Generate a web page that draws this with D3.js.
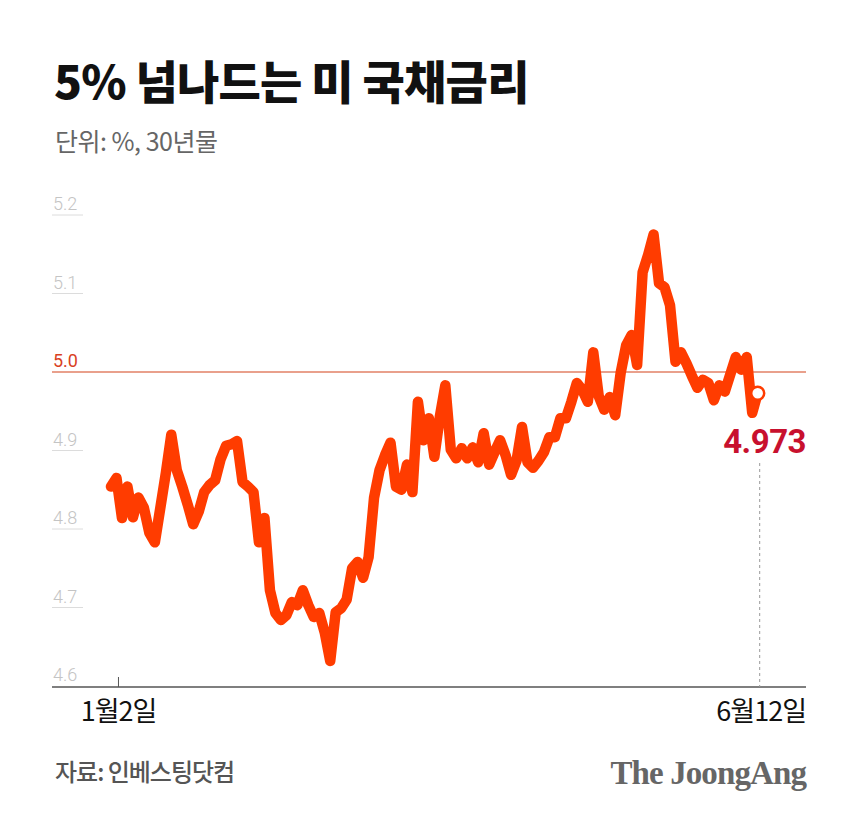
<!DOCTYPE html>
<html>
<head>
<meta charset="utf-8">
<script src="https://d3js.org/d3.v7.min.js"></script>
<style>
  body { margin: 0; background: #fff; }
</style>
</head>
<body>
<div id="chart"></div>
<script>
// 30-year US Treasury yield, daily
const yields = [
  4.854, 4.865, 4.814, 4.854, 4.815, 4.840, 4.827, 4.795, 4.783, 4.827,
  4.871, 4.920, 4.875, 4.854, 4.831, 4.806, 4.822, 4.847, 4.856, 4.862,
  4.889, 4.906, 4.908, 4.912, 4.860, 4.854, 4.847, 4.783, 4.814, 4.722,
  4.693, 4.684, 4.690, 4.707, 4.703, 4.722, 4.703, 4.688, 4.693, 4.668,
  4.632, 4.694, 4.699, 4.710, 4.750, 4.758, 4.738, 4.764, 4.840, 4.875,
  4.894, 4.910, 4.854, 4.850, 4.882, 4.847, 4.962, 4.913, 4.941, 4.892,
  4.943, 4.983, 4.901, 4.890, 4.903, 4.890, 4.904, 4.885, 4.922, 4.882,
  4.898, 4.913, 4.894, 4.869, 4.887, 4.930, 4.885, 4.878, 4.887, 4.898,
  4.917, 4.917, 4.941, 4.941, 4.962, 4.986, 4.977, 4.962, 5.025, 4.969,
  4.952, 4.968, 4.945, 4.999, 5.034, 5.047, 5.009, 5.127, 5.149, 5.175,
  5.113, 5.108, 5.085, 5.013, 5.025, 5.011, 4.995, 4.980, 4.990, 4.986,
  4.964, 4.983, 4.975, 4.997, 5.019, 5.003, 5.019, 4.948, 4.973
];
const yTicks = [4.6, 4.7, 4.8, 4.9, 5.0, 5.1, 5.2];
const xTickLabels = ["1월2일", "6월12일"];
const xTickIndex = [1, yields.length - 1];
const refLevel = 5.0;
const lastLabel = "4.973";

const width = 860, height = 824;
const KR = "'Noto Sans CJK KR', 'Noto Sans', sans-serif";
const NUM = "Roboto, 'Liberation Sans', sans-serif";

const svg = d3.select("#chart").append("svg")
  .attr("width", width)
  .attr("height", height);

svg.append("rect").attr("width", width).attr("height", height).attr("fill", "#fff");

// titles
svg.append("text")
  .attr("x", 54).attr("y", 99)
  .style("font-family", KR)
  .style("font-size", "46px").style("font-weight", 900)
  .style("letter-spacing", "-0.8px")
  .attr("fill", "#111")
  .text("5% 넘나드는 미 국채금리");

svg.append("text")
  .attr("x", 55).attr("y", 151)
  .style("font-family", KR)
  .style("font-size", "25px")
  .style("letter-spacing", "-0.5px")
  .attr("fill", "#666")
  .text("단위: %, 30년물");

// scales
const x = d3.scaleLinear().domain([0, yields.length - 1]).range([111, 757.7]);
const y = d3.scaleLinear().domain([4.6, 5.2]).range([686, 215]);

const left = 52, right = 806;

// y labels with short underlines
const yg = svg.append("g");
yTicks.forEach(t => {
  const isRef = t === refLevel;
  if (t !== 4.6) {
    yg.append("line")
      .attr("x1", left).attr("x2", isRef ? right : 83)
      .attr("y1", y(t)).attr("y2", y(t))
      .attr("stroke", isRef ? "#e9a08c" : "#dcdcdc")
      .attr("stroke-width", isRef ? 2 : 1);
  }
  yg.append("text")
    .attr("x", left + 1).attr("y", y(t) - 5)
    .style("font-family", NUM)
    .style("font-size", "18px")
    .style("font-weight", isRef ? 400 : 300)
    .attr("fill", isRef ? "#d9411e" : "#c4c4c4")
    .text(d3.format(".1f")(t));
});

// x axis
svg.append("line")
  .attr("x1", left).attr("x2", right)
  .attr("y1", y(4.6) + 1).attr("y2", y(4.6) + 1)
  .attr("stroke", "#555").attr("stroke-width", 1.3);

svg.append("line")
  .attr("x1", x(xTickIndex[0]) + 2).attr("x2", x(xTickIndex[0]) + 2)
  .attr("y1", y(4.6) - 9).attr("y2", y(4.6) + 1)
  .attr("stroke", "#555");

// dashed guide to the last point
svg.append("line")
  .attr("x1", x(xTickIndex[1]) + 2).attr("x2", x(xTickIndex[1]) + 2)
  .attr("y1", 463).attr("y2", y(4.6) + 1)
  .attr("stroke", "#999").attr("stroke-dasharray", "3,3");

svg.append("text")
  .attr("x", x(xTickIndex[0]) + 2).attr("y", 721)
  .attr("text-anchor", "middle")
  .style("font-family", KR)
  .style("font-size", "27px").style("letter-spacing", "-1px")
  .attr("fill", "#111")
  .text(xTickLabels[0]);

svg.append("text")
  .attr("x", right).attr("y", 721)
  .attr("text-anchor", "end")
  .style("font-family", KR)
  .style("font-size", "27px").style("letter-spacing", "-1px")
  .attr("fill", "#111")
  .text(xTickLabels[1]);

// the line
const line = d3.line()
  .x((d, i) => x(i))
  .y(d => y(d));

svg.append("path")
  .datum(yields)
  .attr("d", line)
  .attr("fill", "none")
  .attr("stroke", "#ff3c00")
  .attr("stroke-width", 10.5)
  .attr("stroke-linejoin", "round")
  .attr("stroke-linecap", "round");

// last point marker
const lastI = yields.length - 1;
svg.append("circle")
  .attr("cx", x(lastI)).attr("cy", y(yields[lastI]))
  .attr("r", 6.5)
  .attr("fill", "#fff")
  .attr("stroke", "#ff3c00")
  .attr("stroke-width", 2.5);

svg.append("text")
  .attr("x", right).attr("y", 453)
  .attr("text-anchor", "end")
  .style("font-family", NUM)
  .style("font-size", "33px").style("font-weight", 700)
  .style("letter-spacing", "-0.5px")
  .attr("fill", "#c8102e")
  .text(lastLabel);

// footer
svg.append("text")
  .attr("x", 55).attr("y", 781)
  .style("font-family", KR)
  .style("font-size", "24px").style("font-weight", 500)
  .style("letter-spacing", "-1px")
  .attr("fill", "#555")
  .text("자료: 인베스팅닷컴");

svg.append("text")
  .attr("x", right).attr("y", 784)
  .attr("text-anchor", "end")
  .style("font-family", "'Liberation Serif', 'DejaVu Serif', serif")
  .style("font-size", "33px").style("font-weight", 700)
  .style("letter-spacing", "-0.9px")
  .attr("fill", "#666")
  .text("The JoongAng");
</script>
</body>
</html>
